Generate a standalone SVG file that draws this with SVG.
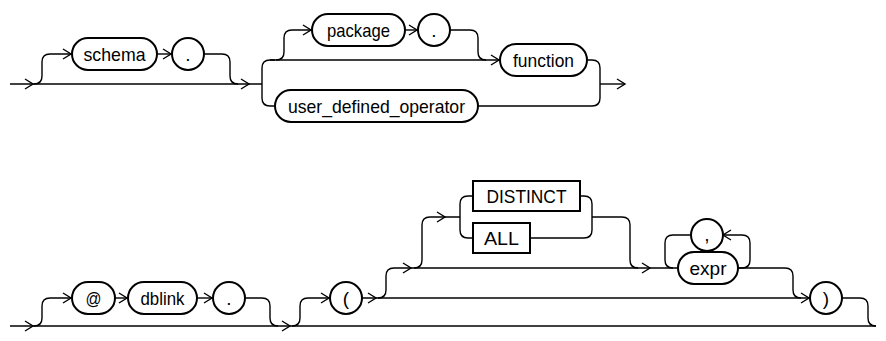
<svg xmlns="http://www.w3.org/2000/svg" width="886" height="341" viewBox="0 0 886 341">
<style>
.ln{fill:none;stroke:#000;stroke-width:1.4}
.nd{fill:#fff;stroke:#000;stroke-width:2}
.ar{fill:none;stroke:#000;stroke-width:1.4}
text{font-family:"Liberation Sans",Arial,sans-serif;font-size:19px;text-anchor:middle;fill:#000}
</style>
<defs>
<path id="a" class="ar" d="M-8,-5 L0,0 L-8,5"/>
<path id="al" class="ar" d="M8,-5 L0,0 L8,5"/>
</defs>
<g id="connectors">
<path class="ln" d="M10,84 L262,84"/>
<path class="ln" d="M34,84 Q42,84 42,76 L42,62 Q42,54 50,54 L72,54"/>
<path class="ln" d="M157,54 L172,54"/>
<path class="ln" d="M204,54 L222,54 Q230,54 230,62 L230,76 Q230,84 238,84"/>
<path class="ln" d="M275,60 L270,60 Q262,60 262,68 L262,98 Q262,106 270,106 L275,106"/>
<path class="ln" d="M270,60 L500,60"/>
<path class="ln" d="M276,60 Q284,60 284,52 L284,38 Q284,30 292,30 L312,30"/>
<path class="ln" d="M405,30 L418,30"/>
<path class="ln" d="M450,30 L470,30 Q478,30 478,38 L478,52 Q478,60 486,60"/>
<path class="ln" d="M587,60 L592,60 Q600,60 600,68 L600,98 Q600,106 592,106 L478,106"/>
<path class="ln" d="M600,84 L625,84"/>
<use href="#a" x="33" y="84"/>
<use href="#a" x="71" y="54"/>
<use href="#a" x="171" y="54"/>
<use href="#a" x="249" y="84"/>
<use href="#a" x="311" y="30"/>
<use href="#a" x="417" y="30"/>
<use href="#a" x="499" y="60"/>
<use href="#a" x="625" y="84"/>

<path class="ln" d="M10,326 L876,326"/>
<path class="ln" d="M34,326 Q42,326 42,318 L42,306 Q42,298 50,298 L72,298"/>
<path class="ln" d="M115,298 L128,298"/>
<path class="ln" d="M197,298 L213,298"/>
<path class="ln" d="M245,298 L262,298 Q270,298 270,306 L270,318 Q270,326 278,326"/>
<path class="ln" d="M292,326 Q300,326 300,318 L300,306 Q300,298 308,298 L330,298"/>
<path class="ln" d="M362,298 L810,298"/>
<path class="ln" d="M378,298 Q386,298 386,290 L386,276 Q386,268 394,268 L678,268"/>
<path class="ln" d="M414,268 Q422,268 422,260 L422,225 Q422,217 430,217 L460,217"/>
<path class="ln" d="M473,196 L468,196 Q460,196 460,204 L460,230 Q460,238 468,238 L473,238"/>
<path class="ln" d="M580,196 L584,196 Q592,196 592,204 L592,230 Q592,238 584,238 L530,238"/>
<path class="ln" d="M592,217 L622,217 Q630,217 630,225 L630,260 Q630,268 638,268"/>
<path class="ln" d="M738,268 L742,268 Q750,268 750,260 L750,243 Q750,235 742,235 L723,235"/>
<path class="ln" d="M691,235 L673,235 Q665,235 665,243 L665,260 Q665,268 673,268"/>
<path class="ln" d="M738,268 L785,268 Q793,268 793,276 L793,290 Q793,298 801,298"/>
<path class="ln" d="M842,298 L860,298 Q868,298 868,306 L868,318 Q868,326 876,326"/>
<use href="#a" x="33" y="326"/>
<use href="#a" x="71" y="298"/>
<use href="#a" x="127" y="298"/>
<use href="#a" x="212" y="298"/>
<use href="#a" x="290" y="326"/>
<use href="#a" x="329" y="298"/>
<use href="#a" x="376" y="298"/>
<use href="#a" x="411" y="268"/>
<use href="#a" x="445" y="217"/>
<use href="#a" x="650" y="268"/>
<use href="#al" x="723" y="235"/>
<use href="#a" x="809" y="298"/>
</g>
<g id="n-schema"><rect class="nd" x="72" y="38" width="85" height="32" rx="16"/><text x="114.5" y="61" textLength="62" lengthAdjust="spacingAndGlyphs">schema</text></g>
<g id="n-dot1"><circle class="nd" cx="188" cy="54" r="16"/><text x="188" y="61">.</text></g>
<g id="n-package"><rect class="nd" x="312" y="14" width="93" height="32" rx="16"/><text x="358.5" y="37" textLength="63" lengthAdjust="spacingAndGlyphs">package</text></g>
<g id="n-dot2"><circle class="nd" cx="434" cy="30" r="16"/><text x="434" y="37">.</text></g>
<g id="n-function"><rect class="nd" x="500" y="44" width="87" height="32" rx="16"/><text x="543.5" y="67" textLength="61" lengthAdjust="spacingAndGlyphs">function</text></g>
<g id="n-udo"><rect class="nd" x="275" y="90" width="203" height="32" rx="16"/><text x="376.5" y="113" textLength="177" lengthAdjust="spacingAndGlyphs">user_defined_operator</text></g>
<g id="n-at"><rect class="nd" x="72" y="282" width="43" height="32" rx="16"/><text x="93.5" y="305" textLength="16" lengthAdjust="spacingAndGlyphs">@</text></g>
<g id="n-dblink"><rect class="nd" x="128" y="282" width="69" height="32" rx="16"/><text x="162.5" y="305" textLength="44" lengthAdjust="spacingAndGlyphs">dblink</text></g>
<g id="n-dot3"><circle class="nd" cx="229" cy="298" r="16"/><text x="229" y="305">.</text></g>
<g id="n-lparen"><circle class="nd" cx="346" cy="298" r="16"/><text x="346" y="305">(</text></g>
<g id="n-distinct"><rect class="nd" x="473" y="181" width="107" height="30"/><text x="526.5" y="203" textLength="80" lengthAdjust="spacingAndGlyphs">DISTINCT</text></g>
<g id="n-all"><rect class="nd" x="473" y="223" width="57" height="30"/><text x="501.5" y="245" textLength="35" lengthAdjust="spacingAndGlyphs">ALL</text></g>
<g id="n-comma"><circle class="nd" cx="707" cy="235" r="16"/><text x="707" y="241">,</text></g>
<g id="n-expr"><rect class="nd" x="678" y="252" width="60" height="32" rx="16"/><text x="708" y="275" textLength="37" lengthAdjust="spacingAndGlyphs">expr</text></g>
<g id="n-rparen"><circle class="nd" cx="826" cy="298" r="16"/><text x="826" y="305">)</text></g>
</svg>
